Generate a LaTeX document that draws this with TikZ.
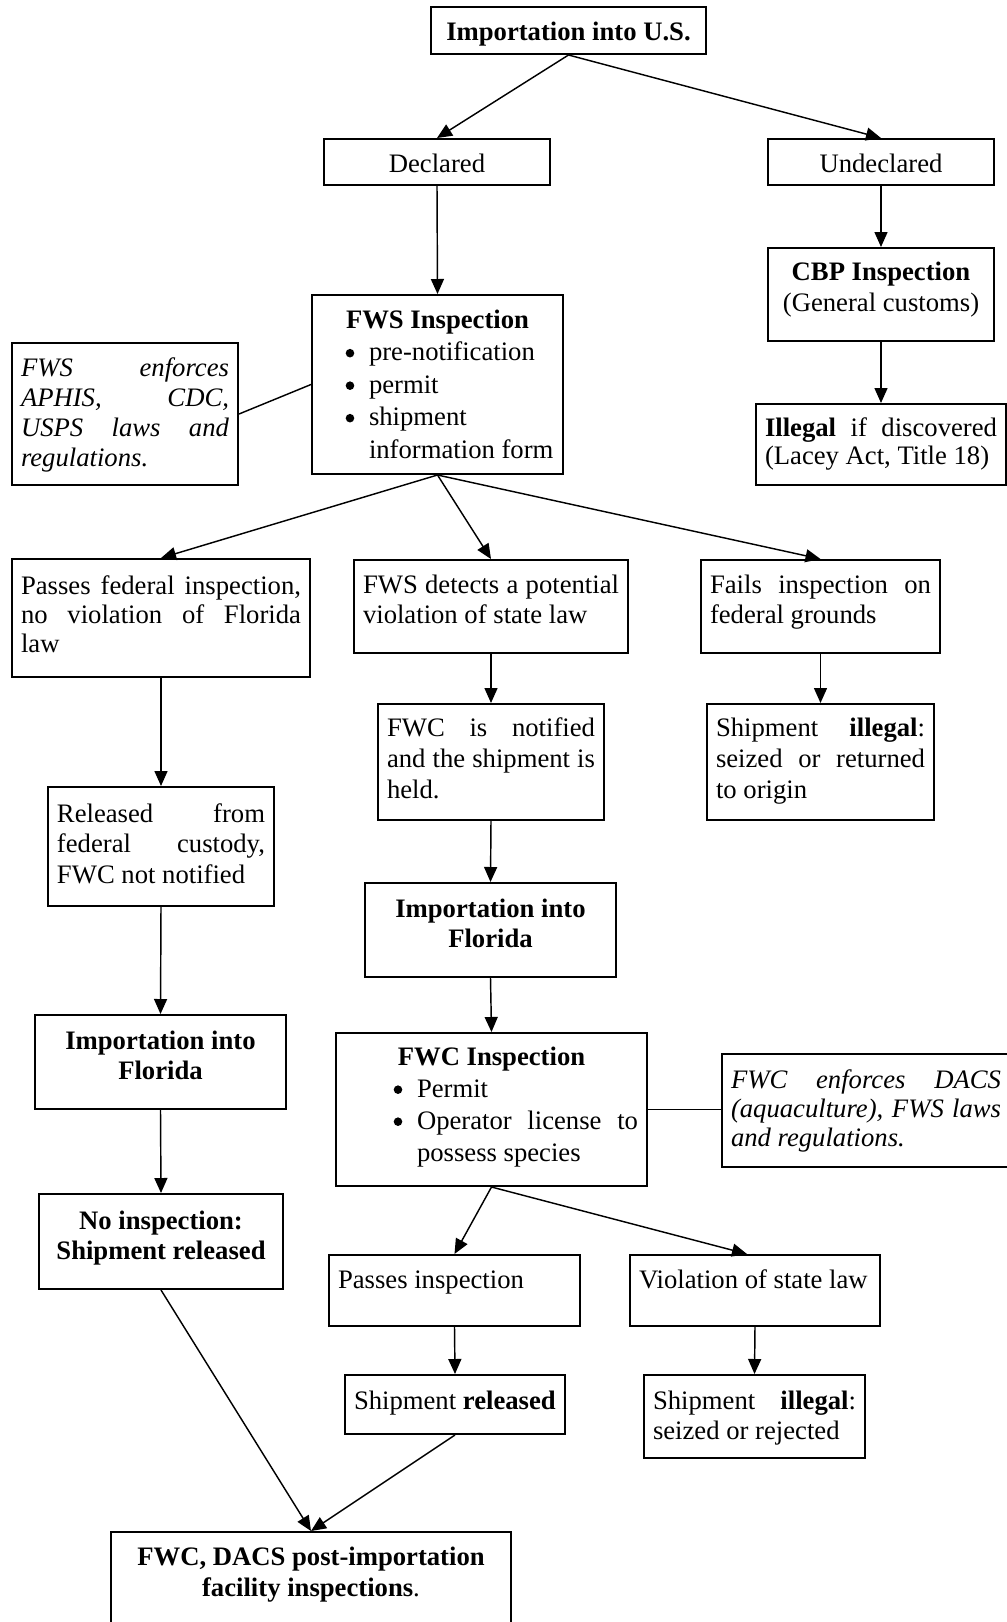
\documentclass[tikz,border=0pt]{standalone}
\usepackage{fontspec}
\setmainfont{Liberation Serif}
\usetikzlibrary{arrows.meta,calc}
\newlength\pu \setlength\pu{0.45pt}
% #1 alignment, #2 box width px, #3 box height px, #4 first baseline offset px, #5 text
\newcommand\tbox[5][]{\parbox[c][#3\pu][t]{\dimexpr#2\pu-18\pu\relax}{#1\fontsize{12pt}{13.5pt}\selectfont\rule{0pt}{#4\pu}#5}}
\newcommand\jl[1]{\makebox[\linewidth][s]{#1}\\}
% #1 bullet centre from inner left (px), #2 text start from inner left (px)
\newcommand\bul[2]{\makebox[0pt][l]{\hspace*{\dimexpr#1\pu-4.3\pu\relax}\tikz[baseline=0pt]\fill[black] (0,3.3pt) circle[radius=1.93pt];}\hspace*{#2\pu}}
\begin{document}
\begin{tikzpicture}[x=0.45pt,y=-0.45pt,
  box/.style={draw, line width=0.9pt, inner xsep=4.05pt, inner ysep=0pt, anchor=north west},
  arr/.style={line width=0.65pt, -{Triangle[length=6.75pt,width=5.85pt]}},
  link/.style={line width=0.65pt}]
\fill[white] (0,0) rectangle (1006,1622);
\useasboundingbox (0,0) rectangle (1006,1622);

\node[box] (top) at (430,6) {\tbox[\centering]{275}{47}{33}{\textbf{Importation into U.S.}}};
\node[box] (dec) at (323,138) {\tbox[\centering]{226}{46}{33}{Declared}};
\node[box] (und) at (767,138) {\tbox[\centering]{226}{46}{33}{Undeclared}};
\node[box] (cbp) at (767,247) {\tbox[\centering]{226}{93}{32}{\setlength\baselineskip{31\pu}\textbf{CBP Inspection}\\(General customs)}};
\node[box] (ill) at (755,403) {\tbox{250}{81}{32}{\setlength\baselineskip{28\pu}\jl{\textbf{Illegal} if discovered}(Lacey Act, Title 18)}};

\node[box] (fws) at (311,294) {\tbox{251}{179}{33}{\setlength\baselineskip{32.5\pu}\makebox[\linewidth]{\textbf{FWS Inspection}}\\
  \bul{29}{48}pre-notification\\
  \bul{29}{48}permit\\
  \bul{29}{48}shipment\\
  \hspace*{48\pu}information form}};
\node[box] (note1) at (11,342) {\tbox{226}{142}{33}{\itshape\setlength\baselineskip{30\pu}\jl{FWS enforces}\jl{APHIS, CDC,}\jl{USPS laws and}regulations.}};

\node[box] (pfed) at (11,558) {\tbox{298}{118}{35}{\setlength\baselineskip{29\pu}\jl{Passes federal inspection,}\jl{no violation of Florida}law}};
\node[box] (det) at (353,559) {\tbox{274}{93}{33}{\setlength\baselineskip{30\pu}\jl{FWS detects a potential}violation of state law}};
\node[box] (fail) at (700,559) {\tbox{239}{93}{33}{\setlength\baselineskip{30\pu}\jl{Fails inspection on}federal grounds}};

\node[box] (notif) at (377,703) {\tbox{226}{116}{32}{\setlength\baselineskip{31\pu}\jl{FWC is notified}\jl{and the shipment is}held.}};
\node[box] (ill2) at (706,703) {\tbox{227}{116}{32}{\setlength\baselineskip{31\pu}\jl{Shipment \textbf{illegal}:}\jl{seized or returned}to origin}};
\node[box] (rel) at (47,786) {\tbox{226}{119}{35}{\setlength\baselineskip{30.5\pu}\jl{Released from}\jl{federal custody,}FWC not notified}};

\node[box] (impm) at (364,882) {\tbox[\centering]{251}{94}{34}{\setlength\baselineskip{30\pu}\textbf{Importation into}\\\textbf{Florida}}};
\node[box] (impl) at (34,1014) {\tbox[\centering]{251}{94}{34}{\setlength\baselineskip{30\pu}\textbf{Importation into}\\\textbf{Florida}}};

\node[box] (fwc) at (335,1032) {\tbox{311}{153}{32}{\setlength\baselineskip{32\pu}\makebox[\linewidth]{\textbf{FWC Inspection}}\\
  \bul{53}{72}Permit\\
  \bul{53}{72}\makebox[\dimexpr\linewidth-72\pu][s]{Operator license to}\\
  \hspace*{72\pu}possess species}};
\node[box] (note2) at (721,1053) {\tbox{288}{113}{34}{\itshape\setlength\baselineskip{29\pu}\jl{FWC enforces DACS}\jl{(aquaculture), FWS laws}and regulations.}};

\node[box] (noins) at (38,1193) {\tbox[\centering]{244}{95}{35}{\setlength\baselineskip{30\pu}\textbf{No inspection:}\\\textbf{Shipment released}}};
\node[box] (pins) at (328,1254) {\tbox{251}{71}{33}{Passes inspection}};
\node[box] (viol) at (629,1254) {\tbox{250}{71}{33}{Violation of state law}};
\node[box] (srel) at (344,1374) {\tbox{220}{59}{34}{Shipment \textbf{released}}};
\node[box] (ill3) at (643,1374) {\tbox{221}{83}{34}{\setlength\baselineskip{30\pu}\jl{Shipment \textbf{illegal}:}seized or rejected}};
\node[box] (final) at (110,1531) {\tbox[\centering]{400}{110}{33}{\setlength\baselineskip{31\pu}\textbf{FWC, DACS post-importation}\\\textbf{facility inspections}.}};

% connectors
\draw[arr] (top.south) -- (dec.north);
\draw[arr] (top.south) -- (und.north);
\draw[arr] (dec.south) -- (fws.north);
\draw[arr] (und.south) -- (cbp.north);
\draw[arr] (cbp.south) -- (ill.north);
\draw[link] (note1.east) -- (fws.west);
\draw[arr] (fws.south) -- (pfed.north);
\draw[arr] (fws.south) -- (det.north);
\draw[arr] (fws.south) -- (fail.north);
\draw[arr] (pfed.south) -- (rel.north);
\draw[arr] (rel.south) -- (impl.north);
\draw[arr] (impl.south) -- (noins.north);
\draw[arr] (det.south) -- (notif.north);
\draw[arr] (notif.south) -- (impm.north);
\draw[arr] (impm.south) -- (fwc.north);
\draw[arr] (fail.south) -- (ill2.north);
\draw[link] (fwc.east) -- (fwc.east -| note2.west);
\draw[arr] (fwc.south) -- (pins.north);
\draw[arr] (fwc.south) -- ($(viol.north)+(-8,0)$);
\draw[arr] (pins.south) -- (srel.north);
\draw[arr] (viol.south) -- (ill3.north);
\draw[arr] (noins.south) -- (final.north);
\draw[arr] (srel.south) -- (final.north);
\end{tikzpicture}
\end{document}
